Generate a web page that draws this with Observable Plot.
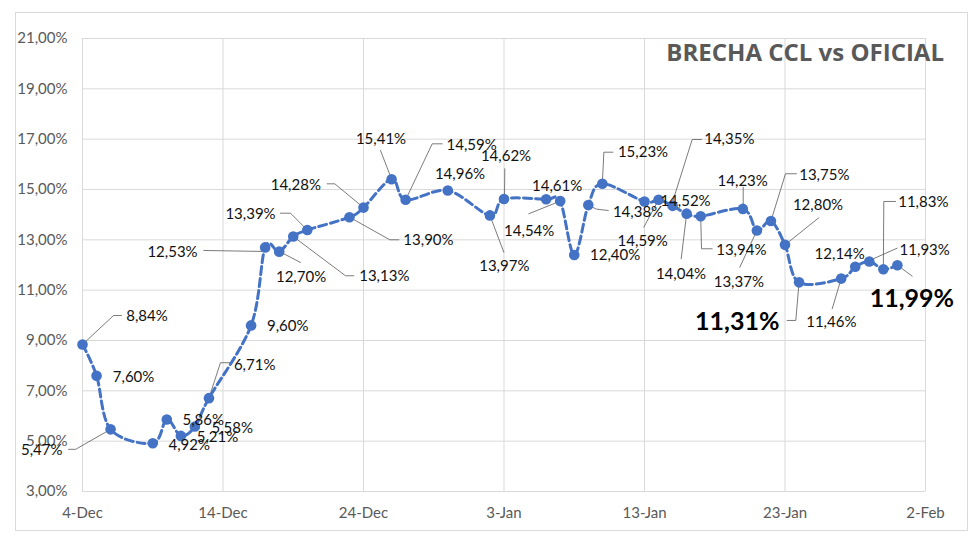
<!DOCTYPE html>
<html>
<head>
<meta charset="utf-8">
<script src="https://cdn.jsdelivr.net/npm/d3@7"></script>
<script src="https://cdn.jsdelivr.net/npm/@observablehq/plot@0.6"></script>
<style>
  html, body { margin: 0; padding: 0; background: #fff; }
  #wrap { position: relative; width: 980px; height: 545px; }
  #border { position: absolute; left: 15px; top: 12px; width: 951px; height: 517px; border: 1px solid #d9d9d9; pointer-events: none; }
  #title { position: absolute; right: 36px; top: 40px; font: bold 24px/24px "Open Sans", sans-serif; color: #595959; white-space: nowrap; }
</style>
</head>
<body>
<div id="wrap">
  <div id="chart"></div>
  <div id="border"></div>
  <div id="title"></div>
</div>
<script>
// ---- data ----
const dates = ["2019-12-04","2019-12-05","2019-12-06","2019-12-09","2019-12-10","2019-12-11","2019-12-12","2019-12-13","2019-12-16","2019-12-17","2019-12-18","2019-12-19","2019-12-20","2019-12-23","2019-12-24","2019-12-26","2019-12-27","2019-12-30","2020-01-02","2020-01-03","2020-01-06","2020-01-07","2020-01-08","2020-01-09","2020-01-10","2020-01-13","2020-01-14","2020-01-15","2020-01-16","2020-01-17","2020-01-20","2020-01-21","2020-01-22","2020-01-23","2020-01-24","2020-01-27","2020-01-28","2020-01-29","2020-01-30","2020-01-31"];
const brecha = [8.84,7.60,5.47,4.92,5.86,5.21,5.58,6.71,9.60,12.70,12.53,13.13,13.39,13.90,14.28,15.41,14.59,14.96,13.97,14.62,14.61,14.54,12.40,14.38,15.23,14.52,14.59,14.35,14.04,13.94,14.23,13.37,13.75,12.80,11.31,11.46,11.93,12.14,11.83,11.99];
const yTicks = [3,5,7,9,11,13,15,17,19,21];
const xTickDates = ["2019-12-04","2019-12-14","2019-12-24","2020-01-03","2020-01-13","2020-01-23","2020-02-02"];
const xDomain = ["2019-12-04","2020-02-02"];
const yDomain = [3,21];
const titleText = "BRECHA CCL vs OFICIAL";

// ---- label layout (pixel offsets from each point: text centre, leader polyline, bold) ----
const labelLayout = [
  [64.5,-28.4,[[0,0],[31,-29],[39,-29]]],
  [37,1.4],
  [-68.9,20.4,[[0,0],[-35,20],[-42,20]]],
  [36.5,1.6],
  [36.4,0.2],
  [36.6,1.3],
  [37.3,1.6],
  [45.7,-33.4,[[0,0],[11.5,-35.4],[23.2,-35.4]]],
  [36.6,1.1],
  [35.9,29.8,[[12.4,3.1],[35.4,15.1]]],
  [-106.7,0.5,[[-75.4,-1.2],[-15.4,-0.2]]],
  [91.05,39.9,[[0,0],[52.25,39.2],[60.55,39.2]]],
  [-56.8,-15.5,[[-26.8,-16.8],[-16.8,-16.8],[0,0]]],
  [79,22.6,[[0,0],[40.35,22.6],[49.35,22.6]]],
  [-67.7,-22.1,[[-36.3,-23.8],[-28.7,-23.8],[0,0]]],
  [-10.6,-40.4,[[-11.1,-28.7],[0,0]]],
  [66,-54.3,[[0,0],[26.55,-56],[36.55,-56]]],
  [12.2,-16.7],
  [14.35,50.8,[[0,0],[13.85,36.8]]],
  [2,-42.6,[[0.8,-30.3],[0.5,0]]],
  [11,-13.1],
  [-31,30.4,[[-31.4,12.7],[0,0]]],
  [40.9,0.5],
  [49.7,7.1,[[0,0],[8,4],[20,5.4]]],
  [40.65,-31.5,[[0,0],[1.5,-31.5],[10.5,-31.5]]],
  [41,-0.1],
  [-15.85,41.4,[[-14.75,27.4],[0,0]]],
  [56.7,-66.4,[[0,-4],[19.6,-66.4],[28.9,-66.4]]],
  [-5.65,60.8,[[-5.45,45.1],[0,0]]],
  [40.6,34.3,[[0,0],[0.8,32.6],[11.5,32.6]]],
  [-0.15,-27.7,[[0.35,-21.7],[0.35,0]]],
  [-18.1,51.7,[[-17.1,36.7],[0,0]]],
  [53.35,-46.2,[[0,0],[14.55,-47.2],[25.55,-47.2]]],
  [33,-39.4,[[0,0],[33.8,-27.1]]],
  [-61.85,39.8,[[0,0],[-3.25,38.1],[-11.85,38.1]],true],
  [-9.9,43.6,[[-9,30.2],[0,0]]],
  [69.45,-17,[[0,0],[41.95,-18.6]]],
  [-29.6,-7.7],
  [39.95,-67.1,[[0,0],[0.45,-67.8],[12.15,-67.8]]],
  [14.4,33.5,[[0,0],[14.8,10.9]],true]
];

// ---- build ----
const W = 980, H = 545, mL = 82, mR = 55, mT = 38, mB = 54;
const parse = d3.utcParse("%Y-%m-%d");
const data = dates.map((d, i) => ({date: parse(d), value: brecha[i], i}));
const xd = xDomain.map(parse);
const xs = d3.scaleUtc().domain(xd).range([mL, W - mR]);
const ys = d3.scaleLinear().domain(yDomain).range([H - mB, mT]);
const fmt = v => v.toFixed(2).replace(".", ",") + "%";

const labels = [], leaders = [];
data.forEach((d, i) => {
  const [dx, dy, lead, bold] = labelLayout[i];
  const px = xs(d.date), py = ys(d.value);
  labels.push({x: xs.invert(px + dx), y: ys.invert(py + dy), text: fmt(d.value), bold: !!bold});
  if (lead) lead.forEach(([ox, oy]) => leaders.push({id: i, x: xs.invert(px + ox), y: ys.invert(py + oy)}));
});

const plot = Plot.plot({
  width: W, height: H,
  marginLeft: mL, marginRight: mR, marginTop: mT, marginBottom: mB,
  style: {fontFamily: "Lato, sans-serif", fontSize: "15px", background: "white"},
  x: {type: "utc", domain: xd},
  y: {domain: yDomain},
  marks: [
    Plot.gridY(yTicks, {stroke: "#d9d9d9", strokeOpacity: 1, strokeWidth: 1}),
    Plot.gridX(xTickDates.map(parse), {stroke: "#d9d9d9", strokeOpacity: 1, strokeWidth: 1}),
    Plot.axisY(yTicks, {tickSize: 0, tickPadding: 15, tickFormat: d => d.toFixed(2).replace(".", ",") + "%", fill: "#595959", fontSize: 15, label: null}),
    Plot.axisX(xTickDates.map(parse), {tickSize: 0, tickPadding: 16, tickFormat: d3.utcFormat("%-d-%b"), fill: "#595959", fontSize: 15, label: null}),
    Plot.line(leaders, {x: "x", y: "y", z: "id", stroke: "#595959", strokeWidth: 0.8}),
    Plot.line(data, {x: "date", y: "value", stroke: "#4472C4", strokeWidth: 3, strokeDasharray: "8,4", curve: "cardinal"}),
    Plot.dot(data, {x: "date", y: "value", r: 5.3, fill: "#4472C4", stroke: "none"}),
    Plot.text(labels.filter(d => !d.bold), {x: "x", y: "y", text: "text", fill: "#111", fontSize: 15}),
    Plot.text(labels.filter(d => d.bold), {x: "x", y: "y", text: "text", fill: "#000", fontSize: 25, fontWeight: "bold"})
  ]
});
document.getElementById("chart").appendChild(plot);
document.getElementById("title").textContent = titleText;
</script>
</body>
</html>
